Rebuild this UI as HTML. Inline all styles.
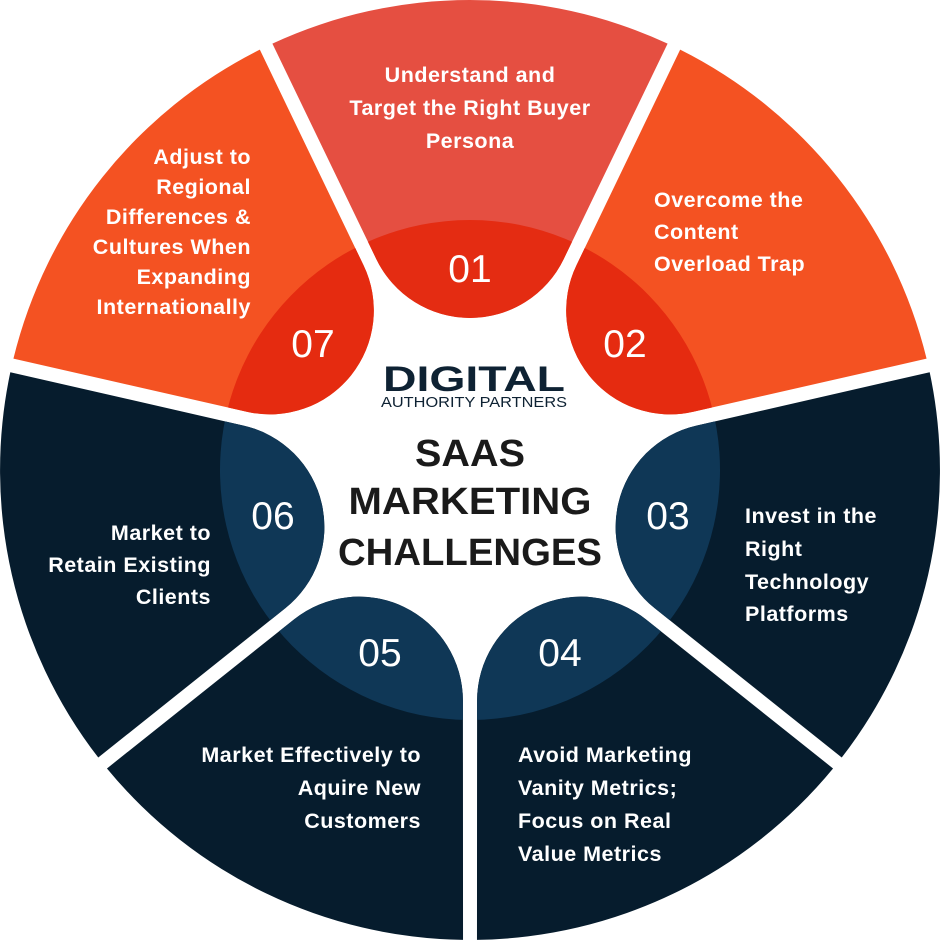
<!DOCTYPE html>
<html><head><meta charset="utf-8"><style>
html,body{margin:0;padding:0;background:#fff;}
svg{display:block;}
text{font-family:"Liberation Sans",sans-serif;}
.t{fill:#fff;font-weight:bold;font-size:21.5px;letter-spacing:0.5px;}
.n{fill:#fff;font-size:39px;text-anchor:middle;}
</style></head><body>
<svg width="940" height="941" viewBox="0 0 940 941" xmlns="http://www.w3.org/2000/svg">
<defs>
<clipPath id="c" clipPathUnits="userSpaceOnUse"><circle cx="470" cy="470" r="250"/></clipPath>
<path id="s" d="M272.4 43.6 A470 470 0 0 1 667.6 43.6 L563.7 259.1 A104 104 0 0 1 376.3 259.1 Z"/>
</defs>
<g><use href="#s" fill="#E54F41"/><use href="#s" fill="#E42C12" clip-path="url(#c)"/></g>
<g transform="rotate(51.4286 470 470)"><use href="#s" fill="#F45222"/><use href="#s" fill="#E52B10" clip-path="url(#c)"/></g>
<g transform="rotate(102.857 470 470)"><use href="#s" fill="#061C2D"/><use href="#s" fill="#0F3756" clip-path="url(#c)"/></g>
<g transform="rotate(154.286 470 470)"><use href="#s" fill="#061C2D"/><use href="#s" fill="#0F3756" clip-path="url(#c)"/></g>
<g transform="rotate(205.714 470 470)"><use href="#s" fill="#061C2D"/><use href="#s" fill="#0F3756" clip-path="url(#c)"/></g>
<g transform="rotate(257.143 470 470)"><use href="#s" fill="#061C2D"/><use href="#s" fill="#0F3756" clip-path="url(#c)"/></g>
<g transform="rotate(308.571 470 470)"><use href="#s" fill="#F45222"/><use href="#s" fill="#E52B10" clip-path="url(#c)"/></g>

<text class="n" x="470" y="282">01</text>
<text class="n" x="625" y="357">02</text>
<text class="n" x="668" y="529">03</text>
<text class="n" x="560" y="666">04</text>
<text class="n" x="380" y="666">05</text>
<text class="n" x="273" y="529">06</text>
<text class="n" x="313" y="357">07</text>

<g class="t" text-anchor="middle">
<text x="470" y="82">Understand and</text>
<text x="470" y="115">Target the Right Buyer</text>
<text x="470" y="148">Persona</text>
</g>
<g class="t" text-anchor="end">
<text x="251" y="164">Adjust to</text>
<text x="251" y="194">Regional</text>
<text x="251" y="224">Differences &amp;</text>
<text x="251" y="254">Cultures When</text>
<text x="251" y="284">Expanding</text>
<text x="251" y="314">Internationally</text>
</g>
<g class="t">
<text x="654" y="207">Overcome the</text>
<text x="654" y="239">Content</text>
<text x="654" y="271">Overload Trap</text>
</g>
<g class="t">
<text x="745" y="523">Invest in the</text>
<text x="745" y="556">Right</text>
<text x="745" y="589">Technology</text>
<text x="745" y="621">Platforms</text>
</g>
<g class="t" text-anchor="end">
<text x="211" y="540">Market to</text>
<text x="211" y="572">Retain Existing</text>
<text x="211" y="604">Clients</text>
</g>
<g class="t" text-anchor="end">
<text x="421" y="762">Market Effectively to</text>
<text x="421" y="795">Aquire New</text>
<text x="421" y="828">Customers</text>
</g>
<g class="t">
<text x="518" y="762">Avoid Marketing</text>
<text x="518" y="795">Vanity Metrics;</text>
<text x="518" y="828">Focus on Real</text>
<text x="518" y="861">Value Metrics</text>
</g>

<text x="474" y="391" text-anchor="middle" font-size="35" font-weight="bold" fill="#0E2233" textLength="182" lengthAdjust="spacingAndGlyphs">DIGITAL</text>
<text x="474" y="407" text-anchor="middle" font-size="15" fill="#0E2233" textLength="186" lengthAdjust="spacingAndGlyphs">AUTHORITY PARTNERS</text>

<g font-weight="bold" font-size="38" fill="#1A1A1A" text-anchor="middle">
<text x="470" y="466" textLength="110" lengthAdjust="spacingAndGlyphs">SAAS</text>
<text x="470" y="514" textLength="243" lengthAdjust="spacingAndGlyphs">MARKETING</text>
<text x="470" y="565" textLength="264" lengthAdjust="spacingAndGlyphs">CHALLENGES</text>
</g>
</svg>
</body></html>
